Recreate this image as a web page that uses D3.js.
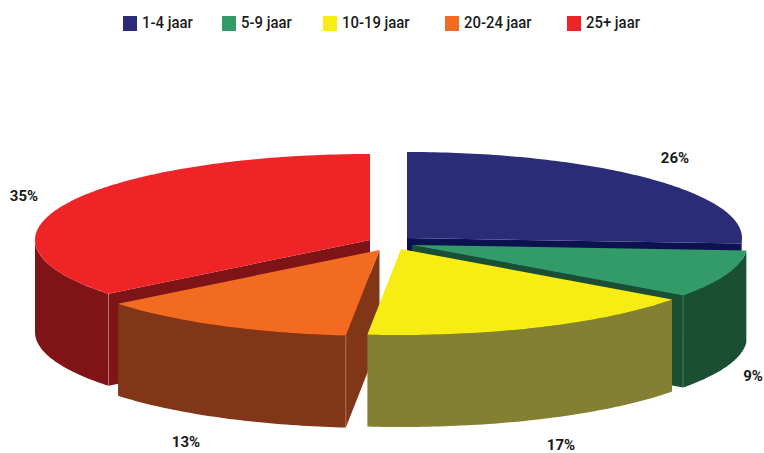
<!DOCTYPE html>
<html>
<head>
<meta charset="utf-8">
<script src="https://cdn.jsdelivr.net/npm/d3@7"></script>
<style>
  html, body { margin: 0; padding: 0; background: #fff; }
  text { font-family: "Roboto", sans-serif; font-weight: 700; fill: #1a1a1a; }
</style>
</head>
<body>
<div id="chart"></div>
<script>
const categories = ['1-4 jaar', '5-9 jaar', '10-19 jaar', '20-24 jaar', '25+ jaar'];
const shares = [26, 9, 16.6, 12.65, 35.75];
const shareLabels = ['26%', '9%', '17%', '13%', '35%'];
const topColors = ['#2b2c77', '#329b68', '#f8ed12', '#f36b21', '#ef2427'];
const wallColors = ['#0c124f', '#1b4f34', '#848033', '#813618', '#7f1416'];

// exploded slice tips
const tips = [[407, 238], [412, 245], [401, 249], [379.5, 250], [370, 240]];
const labelPos = [[675, 158], [753, 376], [561, 445], [186, 442], [24, 196]];
const legendX = [123, 222, 323, 445, 567];
const drawOrder = [0, 4, 1, 3, 2];

const width = 764, height = 453;
const depth = 92;

const svg = d3.select('#chart').append('svg')
    .attr('width', width)
    .attr('height', height)
    .style('display', 'block');

const rx = d3.scaleLinear().domain([-1, 1]).range([-335, 335]);
const ry = d3.scaleLinear().domain([-1, 1]).range([-86, 86]);

const slices = d3.pie().sort(null).value(d => d)(shares);

const rim = (i, a) => [tips[i][0] + rx(Math.sin(a)), tips[i][1] - ry(Math.cos(a))];
const line = d3.line();
const arcPoints = (i, a0, a1) => {
    const n = Math.max(2, Math.ceil((a1 - a0) * 60));
    return d3.range(n + 1).map(k => rim(i, a0 + (a1 - a0) * k / n));
};
const drop = p => [p[0], p[1] + depth];

const wall = pts => line(pts.concat(pts.slice().reverse().map(drop))) + 'Z';

drawOrder.forEach(i => {
    const { startAngle: a0, endAngle: a1 } = slices[i];
    const g = svg.append('g').attr('class', 'slice');
    const tip = tips[i];

    // radial walls, only the ones that face the viewer
    if (Math.sin(a0) < -0.01) {
        g.append('path').attr('d', wall([tip, rim(i, a0)])).attr('fill', wallColors[i]);
    }
    if (Math.sin(a1) > 0.01) {
        g.append('path').attr('d', wall([tip, rim(i, a1)])).attr('fill', wallColors[i]);
    }

    // outer wall, front half of the ellipse
    const from = Math.max(a0, Math.PI / 2);
    const to = Math.min(a1, Math.PI * 1.5);
    if (to > from) {
        g.append('path').attr('d', wall(arcPoints(i, from, to))).attr('fill', wallColors[i]);
    }

    // faint seam where radial wall meets outer wall
    [a0, a1].filter(a => a > Math.PI / 2 && a < Math.PI * 1.5 && (a === a0 ? Math.sin(a) < -0.01 : Math.sin(a) > 0.01))
        .forEach(a => {
            const p = rim(i, a);
            g.append('path').attr('d', line([p, drop(p)]))
                .attr('stroke', '#fff').attr('stroke-opacity', 0.3).attr('stroke-width', 0.8);
        });

    // top face
    g.append('path')
        .attr('d', line([tip].concat(arcPoints(i, a0, a1))) + 'Z')
        .attr('fill', topColors[i]);
});

const legend = svg.append('g').attr('class', 'legend');
categories.forEach((c, i) => {
    legend.append('rect')
        .attr('x', legendX[i]).attr('y', 16)
        .attr('width', 14).attr('height', 15)
        .attr('fill', topColors[i]);
    const t = legend.append('text')
        .attr('x', legendX[i] + 19).attr('y', 28)
        .attr('font-size', 16)
        .style('font-weight', 500)
        .text(c);
    // reference font is condensed, squeeze Roboto to the same width
    t.attr('textLength', t.node().getComputedTextLength() * 0.93)
        .attr('lengthAdjust', 'spacingAndGlyphs');
});

svg.append('g').attr('class', 'labels').selectAll('text')
    .data(shareLabels)
    .enter()
    .append('text')
    .attr('x', (d, i) => labelPos[i][0])
    .attr('y', (d, i) => labelPos[i][1])
    .attr('dy', '.35em')
    .attr('text-anchor', 'middle')
    .attr('font-size', 15)
    .text(d => d);
</script>
</body>
</html>
